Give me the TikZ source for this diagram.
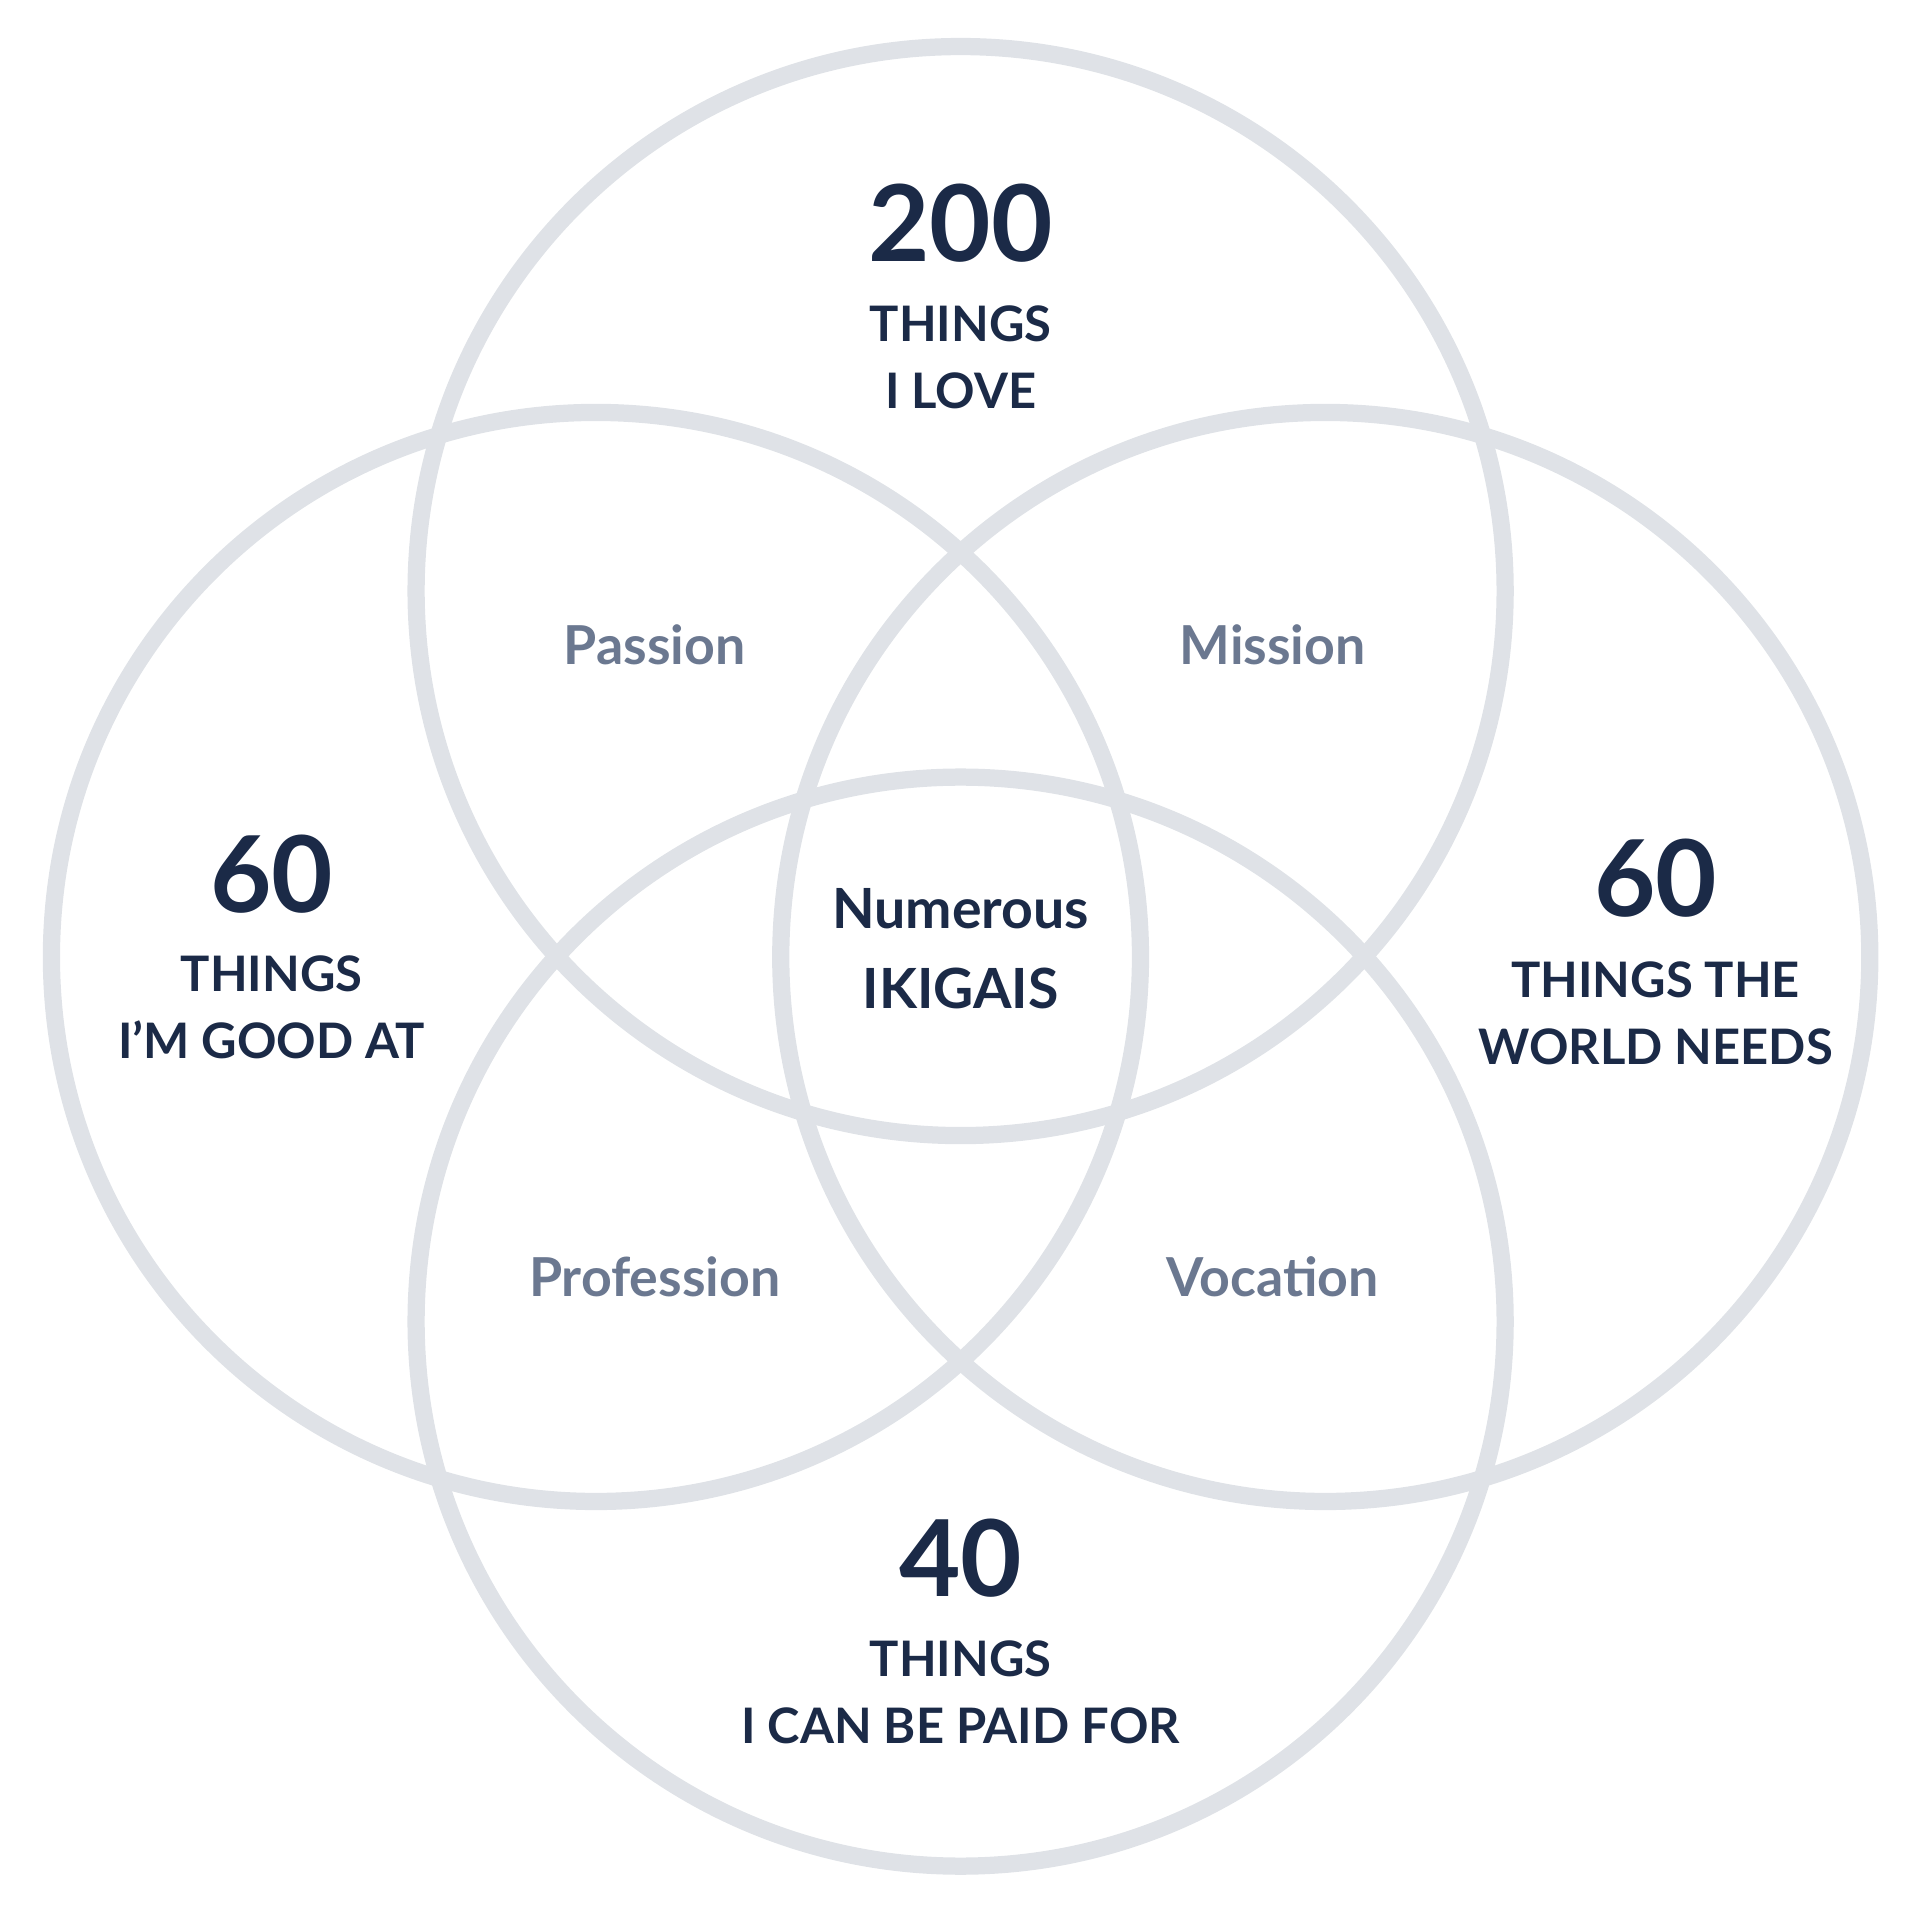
\documentclass[tikz,border=0pt]{standalone}
\usepackage{fontspec}
\setmainfont{Lato}
\definecolor{ringgray}{HTML}{DFE2E7}
\definecolor{inkdark}{HTML}{1B2A47}
\definecolor{inksoft}{HTML}{6B7890}
\tikzset{
  ring/.style={draw=ringgray, line width=0.14cm},
  count/.style={font=\bfseries\fontsize{24.5}{26}\selectfont, text=inkdark},
  what/.style={font=\bfseries\fontsize{11.3}{15.5}\selectfont, text=inkdark, align=center},
  pair/.style={font=\bfseries\fontsize{12.4}{15}\selectfont, text=inksoft},
}
\begin{document}
\begin{tikzpicture}[x=0.00994cm,y=-0.00994cm]
\useasboundingbox (0,0) rectangle (1569,1569);
\draw[ring] (785,483) circle (4.42cm);
\draw[ring] (487,782) circle (4.42cm);
\draw[ring] (1083,782) circle (4.42cm);
\draw[ring] (785,1080) circle (4.42cm);
\path
(785,182) node[count] (love-n) {200}
(785,292) node[what] (love) {THINGS\\I LOVE}
(222,714) node[count] (good-n) {60}
(222,823) node[what] (good) {THINGS\\I’M GOOD AT}
(1353,718) node[count] (world-n) {60}
(1353,828) node[what] (world) {THINGS THE\\WORLD NEEDS}
(785,1273) node[count] (paid-n) {40}
(785,1383) node[what] (paid) {THINGS\\I CAN BE PAID FOR}
(535,527) node[pair] (passion) {Passion}
(1040,527) node[pair] (mission) {Mission}
(535,1043) node[pair] (profession) {Profession}
(1040,1043) node[pair] (vocation) {Vocation}
(785,775) node[what, font=\bfseries\fontsize{12.8}{18.5}\selectfont] (ikigai) {Numerous\\IKIGAIS};
\end{tikzpicture}
\end{document}
